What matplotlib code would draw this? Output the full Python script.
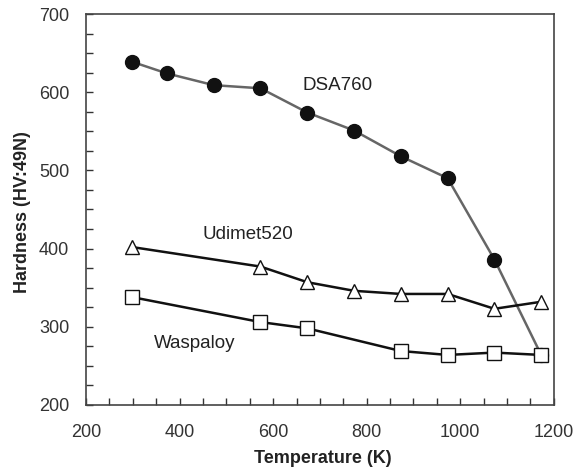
import matplotlib
matplotlib.use("Agg")
import matplotlib.pyplot as plt
from matplotlib.ticker import MultipleLocator

plt.rcParams['font.family'] = ['Liberation Sans', 'DejaVu Sans']

temp_dsa = [298, 373, 473, 573, 673, 773, 873, 973, 1073, 1173]
dsa760 = [639, 624, 609, 605, 574, 551, 518, 490, 386, 264]

temp_udi = [298, 573, 673, 773, 873, 973, 1073, 1173]
udimet520 = [402, 377, 357, 346, 342, 342, 323, 332]

temp_was = [298, 573, 673, 873, 973, 1073, 1173]
waspaloy = [338, 306, 298, 269, 264, 267, 264]

fig = plt.figure(figsize=(5.87, 4.73), dpi=100)
ax = fig.add_axes([0.1465, 0.1438, 0.797, 0.8266])

ax.plot(temp_dsa, dsa760, color='#666666', lw=1.8, marker='o', ms=10,
        mfc='#111111', mec='#111111', zorder=3)
ax.plot(temp_udi, udimet520, color='#111111', lw=1.8, marker='^', ms=10.5,
        mfc='white', mec='#111111', mew=1.0, zorder=4)
ax.plot(temp_was, waspaloy, color='#111111', lw=1.8, marker='s', ms=9.5,
        mfc='white', mec='#111111', mew=1.0, zorder=5)

ax.text(737, 608, 'DSA760', fontsize=13.5, ha='center', va='center', color='#222222')
ax.text(546, 418, 'Udimet520', fontsize=13.5, ha='center', va='center', color='#222222')
ax.text(433, 279, 'Waspaloy', fontsize=13.5, ha='center', va='center', color='#222222')

ax.set_xlim(200, 1200)
ax.set_ylim(200, 700)
ax.xaxis.set_major_locator(MultipleLocator(200))
ax.xaxis.set_minor_locator(MultipleLocator(50))
ax.yaxis.set_major_locator(MultipleLocator(100))
ax.yaxis.set_minor_locator(MultipleLocator(25))
ax.tick_params(which='both', direction='in', color='#333333', labelsize=13,
               labelcolor='#333333')
ax.tick_params(which='major', length=5, width=1.0)
ax.tick_params(which='minor', length=5, width=1.0)
ax.tick_params(axis='y', which='both', pad=12)
ax.tick_params(axis='x', which='both', pad=14)
for s in ax.spines.values():
    s.set_color('#444444')
    s.set_linewidth(1.2)

ax.set_xlabel('Temperature (K)', fontsize=13, fontweight='bold', color='#222222')
ax.set_ylabel('Hardness (HV:49N)', fontsize=13, fontweight='bold', color='#222222')
ax.xaxis.set_label_coords(0.550, 0.0296, transform=fig.transFigure)
ax.yaxis.set_label_coords(0.0375, 0.551, transform=fig.transFigure)
ax.xaxis.label.set_va('center')
ax.yaxis.label.set_va('center')

fig.savefig('out.png', dpi=100)
